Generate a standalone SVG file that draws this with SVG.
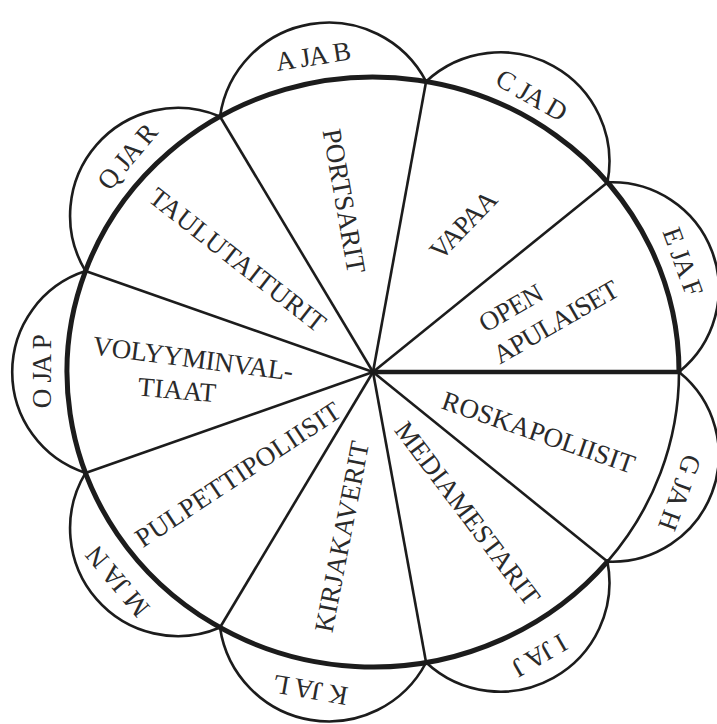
<svg xmlns="http://www.w3.org/2000/svg" width="717" height="724" viewBox="0 0 717 724">
<style>
.bg{fill:#ffffff}
.ring{fill:none;stroke:#1c1c1c;stroke-width:5;stroke-linecap:round}
.ringthin{fill:none;stroke:#1c1c1c;stroke-width:2.6}
.petal{fill:none;stroke:#1c1c1c;stroke-width:2.6}
.spoke{fill:none;stroke:#1c1c1c;stroke-width:2.6}
.spokebold{fill:none;stroke:#1c1c1c;stroke-width:4.6}
.lbl{font-family:"Liberation Serif","Times New Roman",serif;font-size:27px;fill:#2a2a2a;text-anchor:middle}
.plbl{font-family:"Liberation Serif","Times New Roman",serif;font-size:27px;fill:#2a2a2a;text-anchor:middle;letter-spacing:-1.5px;word-spacing:2.5px}
</style>
<rect class="bg" x="0" y="0" width="717" height="724"/>

<g id="ring">
  <path class="ring" d="M607.4,561.6 A306,295 0 1 1 679,372"/>
  <path class="ringthin" d="M679,372 A306,295 0 0 1 607.4,561.6"/>
</g>

<g id="petals">
  <g id="petal-gh"><path class="petal" d="M679,372 A106.6,106.6 0 0 1 607.4,561.6"/><text class="plbl" transform="translate(680,492) rotate(110)" dy="0.33em">G JA H</text></g>
  <g id="petal-ij"><path class="petal" d="M607.4,561.6 A109.1,109.1 0 0 1 426.1,662.5"/><text class="plbl" transform="translate(540,655) rotate(150)" dy="0.33em">I JA J</text></g>
  <g id="petal-kl"><path class="petal" d="M426.1,662.5 A109.9,109.9 0 0 1 220,627.5"/><text class="plbl" transform="translate(311,690) rotate(190)" dy="0.33em">K JA L</text></g>
  <g id="petal-mn"><path class="petal" d="M220,627.5 A107.7,107.7 0 0 1 85.5,472.9"/><text class="plbl" transform="translate(118,582) rotate(230)" dy="0.33em">M JA N</text></g>
  <g id="petal-op"><path class="petal" d="M85.5,472.9 A106.1,106.1 0 0 1 85.5,271.1"/><text class="plbl" transform="translate(42,372) rotate(270)" dy="0.33em">O JA P</text></g>
  <g id="petal-qr"><path class="petal" d="M85.5,271.1 A107.7,107.7 0 0 1 220,116.5"/><text class="plbl" transform="translate(127,157) rotate(-50)" dy="0.33em">Q JA R</text></g>
  <g id="petal-ab"><path class="petal" d="M220,116.5 A109.9,109.9 0 0 1 426.1,81.5"/><text class="plbl" transform="translate(312.5,56.5) rotate(-9)" dy="0.33em">A JA B</text></g>
  <g id="petal-cd"><path class="petal" d="M426.1,81.5 A109.1,109.1 0 0 1 607.4,182.4"/><text class="plbl" transform="translate(531,95) rotate(30)" dy="0.33em">C JA D</text></g>
  <g id="petal-ef"><path class="petal" d="M607.4,182.4 A106.6,106.6 0 0 1 679,372"/><text class="plbl" transform="translate(682.5,261) rotate(70)" dy="0.33em">E JA F</text></g>
</g>

<g id="connectors">
  <line class="spokebold" x1="373" y1="372" x2="679" y2="372"/>
  <line class="spoke" x1="373" y1="372" x2="607.4" y2="561.6"/>
  <line class="spoke" x1="373" y1="372" x2="426.1" y2="662.5"/>
  <line class="spoke" x1="373" y1="372" x2="220" y2="627.5"/>
  <line class="spoke" x1="373" y1="372" x2="85.5" y2="472.9"/>
  <line class="spoke" x1="373" y1="372" x2="85.5" y2="271.1"/>
  <line class="spoke" x1="373" y1="372" x2="220" y2="116.5"/>
  <line class="spoke" x1="373" y1="372" x2="426.1" y2="81.5"/>
  <line class="spoke" x1="373" y1="372" x2="607.4" y2="182.4"/>
</g>

<g id="sector-portsarit"><text class="lbl" transform="translate(344,201) rotate(80)" dy="0.33em" textLength="146" lengthAdjust="spacing">PORTSARIT</text></g>
<g id="sector-vapaa"><text class="lbl" transform="translate(463.5,225) rotate(-46)" dy="0.33em" textLength="84" lengthAdjust="spacing">VAPAA</text></g>
<g id="sector-open-apulaiset">
  <text class="lbl" transform="translate(511,308) rotate(-30)" dy="0.33em" textLength="69" lengthAdjust="spacing">OPEN</text>
  <text class="lbl" transform="translate(556,322) rotate(-30)" dy="0.33em" textLength="140" lengthAdjust="spacing">APULAISET</text>
</g>
<g id="sector-roskapoliisit"><text class="lbl" transform="translate(538.5,432.5) rotate(19)" dy="0.33em" textLength="202" lengthAdjust="spacing">ROSKAPOLIISIT</text></g>
<g id="sector-mediamestarit"><text class="lbl" transform="translate(467.5,513.5) rotate(53)" dy="0.33em" textLength="222" lengthAdjust="spacing">MEDIAMESTARIT</text></g>
<g id="sector-kirjakaverit"><text class="lbl" transform="translate(342,536.5) rotate(-79)" dy="0.33em" textLength="194" lengthAdjust="spacing">KIRJAKAVERIT</text></g>
<g id="sector-pulpettipoliisit"><text class="lbl" transform="translate(238,474.5) rotate(-33.5)" dy="0.33em" textLength="240" lengthAdjust="spacing">PULPETTIPOLIISIT</text></g>
<g id="sector-volyyminvaltiaat">
  <text class="lbl" transform="translate(193,358.5) rotate(7.5)" dy="0.33em" textLength="202" lengthAdjust="spacing">VOLYYMINVAL-</text>
  <text class="lbl" transform="translate(177,390) rotate(5)" dy="0.33em" textLength="78" lengthAdjust="spacing">TIAAT</text>
</g>
<g id="sector-taulutaiturit"><text class="lbl" transform="translate(237.5,260) rotate(38)" dy="0.33em" textLength="216" lengthAdjust="spacing">TAULUTAITURIT</text></g>
</svg>
